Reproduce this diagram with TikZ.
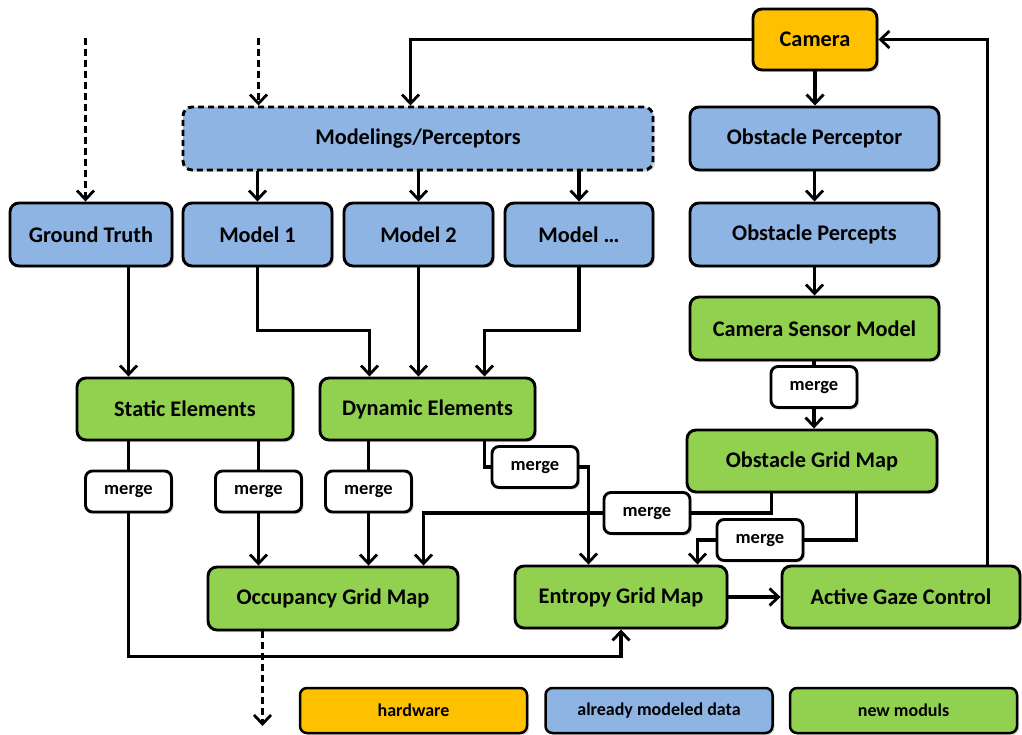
\documentclass[tikz,border=0pt]{standalone}
\usepackage{fontspec}
\setmainfont{Carlito}
\usetikzlibrary{arrows.meta,shadows}
\definecolor{hw}{HTML}{FFC000}
\definecolor{md}{HTML}{8EB4E3}
\definecolor{nm}{HTML}{92D050}
\begin{document}
\begin{tikzpicture}[x=1pt,y=-1pt,
  box/.style={draw=black, line width=2.9pt, rounded corners=9pt, inner sep=0pt,
    font=\bfseries\fontsize{22.3}{26}\selectfont,
    drop shadow={shadow xshift=2pt, shadow yshift=-2pt, opacity=0.25, fill=black!60}},
  mg/.style={box, fill=white, rounded corners=7pt, minimum width=86pt, minimum height=41pt,
    font=\bfseries\fontsize{18.5}{22}\selectfont},
  leg/.style={box, line width=2.5pt, rounded corners=7pt, minimum width=227pt, minimum height=45pt,
    font=\bfseries\fontsize{18}{21}\selectfont},
  ln/.style={line width=3.1pt},
  arr/.style={line width=3.1pt, -{Straight Barb[length=9pt,width=17pt,line width=2.8pt]}},
  dsh/.style={dash pattern=on 7pt off 4pt}]
\useasboundingbox (0,0) rectangle (1022,735);

% columns / rows
\coordinate (cy330) at (0,330.5);
\coordinate (cy657) at (0,656.5);
\coordinate (c128) at (128.5,0);
\coordinate (c368) at (369.5,0);
\coordinate (c410) at (410.5,0);
\coordinate (c423) at (423.5,0);
\coordinate (c483) at (484.5,0);
\coordinate (c588) at (588.5,0);
\coordinate (c697) at (697.5,0);
\coordinate (c771) at (771.5,0);
\coordinate (c856) at (856.5,0);
\coordinate (c987) at (987.5,0);

% nodes
\node[box, fill=hw, minimum width=124pt, minimum height=61pt] (cam) at (815,39.5) {Camera};
\node[box, fill=md, dash pattern=on 6pt off 4pt, minimum width=470pt, minimum height=63pt] (mp) at (418,138.5) {Modelings/Perceptors};
\node[box, fill=md, minimum width=249pt, minimum height=63pt] (op) at (814.5,138.5) {Obstacle Perceptor};
\node[box, fill=md, minimum width=162pt, minimum height=63pt] (gt) at (91,234.5) {Ground Truth};
\node[box, fill=md, minimum width=149pt, minimum height=63pt] (m1) at (257.5,234.5) {Model 1};
\node[box, fill=md, minimum width=149pt, minimum height=63pt] (m2) at (418.5,234.5) {Model 2};
\node[box, fill=md, minimum width=148pt, minimum height=63pt] (mx) at (579,234.5) {Model \dots};
\node[box, fill=md, minimum width=249pt, minimum height=63pt] (ops) at (814.5,234.5) {Obstacle Percepts};
\node[box, fill=nm, minimum width=249pt, minimum height=63pt] (csm) at (814.5,328.5) {Camera Sensor Model};
\node[box, fill=nm, minimum width=216pt, minimum height=62pt] (se) at (185,409) {Static Elements};
\node[box, fill=nm, minimum width=215pt, minimum height=62pt] (de) at (427.5,409) {Dynamic Elements};
\node[box, fill=nm, minimum width=250pt, minimum height=62pt] (ogm) at (812,461) {Obstacle Grid Map};
\node[box, fill=nm, minimum width=250pt, minimum height=63pt] (occ) at (333,598.5) {Occupancy Grid Map};
\node[box, fill=nm, minimum width=212pt, minimum height=62pt] (egm) at (621,597) {Entropy Grid Map};
\node[box, fill=nm, minimum width=238pt, minimum height=62pt] (agc) at (901,597) {Active Gaze Control};

\node[mg] (mg0) at (814,387) {merge};
\node[mg] (mg1) at (128.5,491.5) {merge};
\node[mg] (mg2) at (258.5,491.5) {merge};
\node[mg] (mg3) at (368.5,491.5) {merge};
\node[mg] (mg4) at (535,467) {merge};
\node[mg] (mg5) at (647,513) {merge};
\node[mg] (mg6) at (760,540) {merge};

\node[leg, fill=hw] (lhw) at (413.5,710.5) {hardware};
\node[leg, fill=md] (lmd) at (659,710.5) {already modeled data};
\node[leg, fill=nm] (lnm) at (903.5,710.5) {new moduls};

% connectors
\coordinate (gtin) at (85.5,38);
\coordinate (mpin) at (258.5,38);
\coordinate (out) at (262.5,726);
\draw[arr, dsh] (gtin) -- (gtin |- gt.north);
\draw[arr, dsh] (mpin) -- (mpin |- mp.north);
\draw[arr] (cam.west) -| (c410 |- mp.north);
\draw[arr] (cam.south) -- (cam.south |- op.north);
\draw[arr] (agc.north -| c987) |- (cam.east);
\draw[arr] (m1.north |- mp.south) -- (m1.north);
\draw[arr] (m2.north |- mp.south) -- (m2.north);
\draw[arr] (mx.north |- mp.south) -- (mx.north);
\draw[arr] (op.south) -- (ops.north);
\draw[arr] (ops.south) -- (csm.north);
\draw[arr] (gt.south -| c128) -- (c128 |- se.north);
\draw[arr] (m1.south) -- (m1.south |- cy330) -| (c368 |- de.north);
\draw[arr] (m2.south) -- (m2.south |- de.north);
\draw[arr] (mx.south) -- (mx.south |- cy330) -| (c483 |- de.north);
\draw[ln] (csm.south -| mg0) -- (mg0.north);
\draw[arr] (mg0.south) -- (mg0.south |- ogm.north);
\draw[ln] (se.south -| mg1) -- (mg1.north);
\draw[arr] (mg1.south) -- (mg1.south |- cy657) -| (egm.south);
\draw[ln] (se.south -| mg2) -- (mg2.north);
\draw[arr] (mg2.south) -- (mg2.south |- occ.north);
\draw[ln] (de.south -| mg3) -- (mg3.north);
\draw[arr] (mg3.south) -- (mg3.south |- occ.north);
\draw[ln] (de.south -| c483) |- (mg4.west);
\draw[arr] (mg4.east) -| (c588 |- egm.north);
\draw[ln] (ogm.south -| c771) |- (mg5.east);
\draw[arr] (mg5.west) -| (c423 |- occ.north);
\draw[ln] (ogm.south -| c856) |- (mg6.east);
\draw[arr] (mg6.west) -| (c697 |- egm.north);
\draw[arr] (egm.east) -- (agc.west);
\draw[arr, dsh] (occ.south -| out) -- (out);
\end{tikzpicture}
\end{document}
